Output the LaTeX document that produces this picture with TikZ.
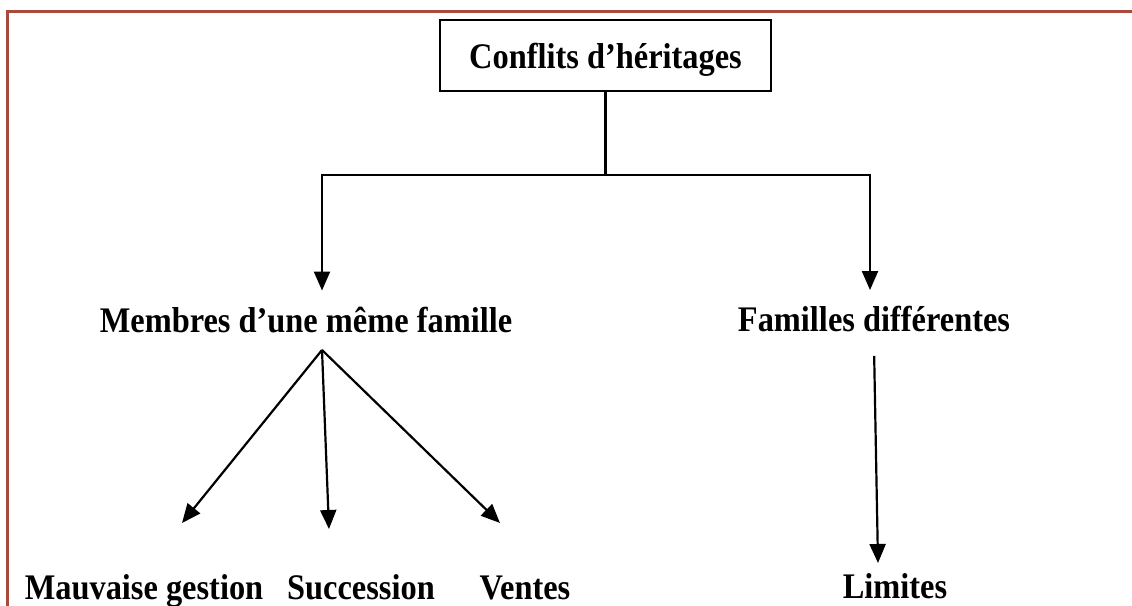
\documentclass[tikz,border=0pt]{standalone}
\usepackage{fontspec}
\setmainfont[FakeStretch=0.9]{Liberation Serif}
\usetikzlibrary{arrows.meta}

\definecolor{framered}{RGB}{168,74,60}

\begin{document}
\begin{tikzpicture}[x=1pt, y=-1pt, line width=2.2pt,
  lab/.style={font=\fontsize{36}{42}\selectfont\bfseries, inner sep=0pt, anchor=base},
  arr/.style={-{Triangle[length=19pt,width=16pt]}}]
\useasboundingbox (0,0) rectangle (1132,605);

% Page frame (top and left only)
\draw[framered, line width=3pt] (7,606) -- (7,11) -- (1133,11);

% Root box
\node[draw, font=\fontsize{36}{42}\selectfont\bfseries, text depth=0pt,
  minimum width=331pt, minimum height=71pt, line width=2.4pt] (conflits) at (605.5,55.5) {Conflits d'héritages};

% First level
\node[lab, inner ysep=15pt] (membres) at (306,332) {Membres d'une même famille};
\node[lab, inner ysep=14.5pt] (familles) at (874,331) {Familles différentes};

% Leaves
\node[lab] (gestion) at (144,599) {Mauvaise gestion};
\node[lab] (succession) at (361,599) {Succession};
\node[lab] (ventes) at (525,599) {Ventes};
\node[lab] (limites) at (895,598) {Limites};

% Fork under the root
\coordinate (forkL) at (322,175);
\coordinate (forkR) at (870,175);
\draw (conflits.south) -- (conflits.south |- forkL);
\draw[arr, line cap=rect] (forkR) -- (forkL) -- (forkL |- membres.north);
\draw[arr, line cap=rect] (forkR) -- (forkR |- familles.north);

% Branches to the leaves
\coordinate (apex) at (322,350);
\coordinate (tipGestion) at (182,523);
\coordinate (tipSuccession) at (329,529);
\coordinate (tipVentes) at (500,523);
\coordinate (tipLimites) at (878,563);
\foreach \t in {tipGestion,tipSuccession,tipVentes}
  \draw[arr] (apex) -- (\t);
\draw[arr, shorten <=9pt] (familles.south) -- (tipLimites);
\end{tikzpicture}
\end{document}
